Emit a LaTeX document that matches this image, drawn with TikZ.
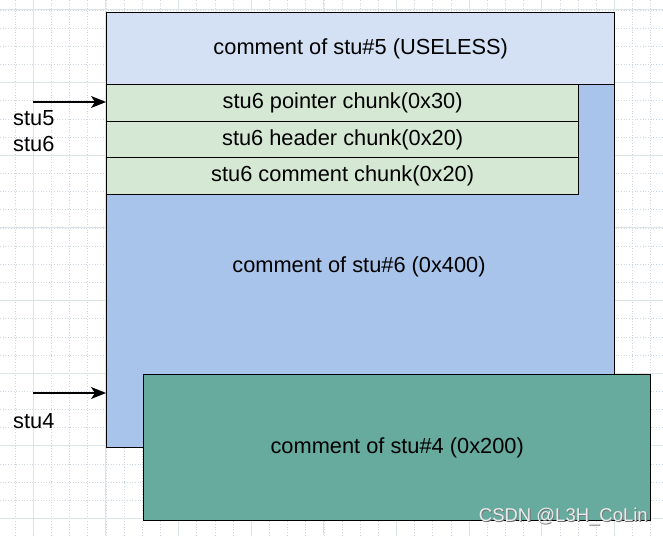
\documentclass[tikz,border=0pt]{standalone}
\usepackage{fontspec}
\setmainfont{Liberation Sans}
\usetikzlibrary{arrows.meta}
\definecolor{gridmajor}{HTML}{DCE4E6}
\definecolor{gridminor}{HTML}{CED6E0}
\definecolor{useless}{HTML}{D4E1F5}
\definecolor{bigblue}{HTML}{A9C4EB}
\definecolor{chunkgreen}{HTML}{D5E8D4}
\definecolor{teal}{HTML}{67AB9F}
\begin{document}
\begin{tikzpicture}[x=1pt,y=-1pt,
  box/.style={draw=black, line width=1.4pt, rectangle, inner sep=0pt, anchor=north west,
    font=\fontsize{21.8}{26}\selectfont},
  lbl/.style={anchor=west, inner sep=0pt, font=\fontsize{21.8}{26}\selectfont},
  ptr/.style={line width=1.4pt, -{Stealth[length=15pt,width=12pt,inset=4pt]}}]
\useasboundingbox (0,0) rectangle (663,535);
\fill[white] (0,0) rectangle (663,535);
% background grid: dotted minor lines, solid major lines
\foreach \i in {-1,...,36} {
  \draw[gridminor, line width=0.7pt, dotted] ({33.3+18.16*\i},0) -- ({33.3+18.16*\i},535);
}
\foreach \i in {-1,...,29} {
  \draw[gridminor, line width=0.7pt, dotted] (0,{10+18.16*\i}) -- (663,{10+18.16*\i});
}
\foreach \i in {-1,...,9} {
  \draw[gridmajor, line width=1pt] ({33.3+72.65*\i},0) -- ({33.3+72.65*\i},535);
}
\foreach \i in {-1,...,7} {
  \draw[gridmajor, line width=1pt] (0,{10+72.65*\i}) -- (663,{10+72.65*\i});
}
% chunks
\node[box, fill=bigblue, minimum width=508pt, minimum height=363pt] (s6) at (106,84) {};
\node at (359,267) [font=\fontsize{21.8}{26}\selectfont] (t6) {comment of stu\#6 (0x400)};
\node[box, fill=useless, minimum width=508pt, minimum height=72pt] (s5) at (106,12) {comment of stu\#5 (USELESS)};
\node[box, fill=chunkgreen, minimum width=472pt, minimum height=36.5pt] (c1) at (106,84) {stu6 pointer chunk(0x30)};
\node[box, fill=chunkgreen, minimum width=472pt, minimum height=36.5pt] (c2) at (106,120.5) {stu6 header chunk(0x20)};
\node[box, fill=chunkgreen, minimum width=472pt, minimum height=36.5pt] (c3) at (106,157) {stu6 comment chunk(0x20)};
\node[box, fill=teal, minimum width=507pt, minimum height=146pt] (s4) at (143,374) {comment of stu\#4 (0x200)};
% pointers
\coordinate (p5) at (33,102);
\coordinate (p4) at (33,393);
\draw[ptr] (p5) -- (p5 -| c1.west);
\draw[ptr] (p4) -- (p4 -| s6.west);
\node[lbl] (l5) at (13,118) {stu5};
\node[lbl] (l6) at (13,144) {stu6};
\node[lbl] (l4) at (13,421) {stu4};
% watermark
\node[anchor=east, inner sep=0pt, text=black!55, font=\fontsize{18.5}{22}\selectfont] (wm0) at (648.8,517.8) {CSDN @L3H\_CoLin};
\node[anchor=east, inner sep=0pt, text=white!92!black, font=\fontsize{18.5}{22}\selectfont] (wm) at (648,517) {CSDN @L3H\_CoLin};
\end{tikzpicture}
\end{document}
